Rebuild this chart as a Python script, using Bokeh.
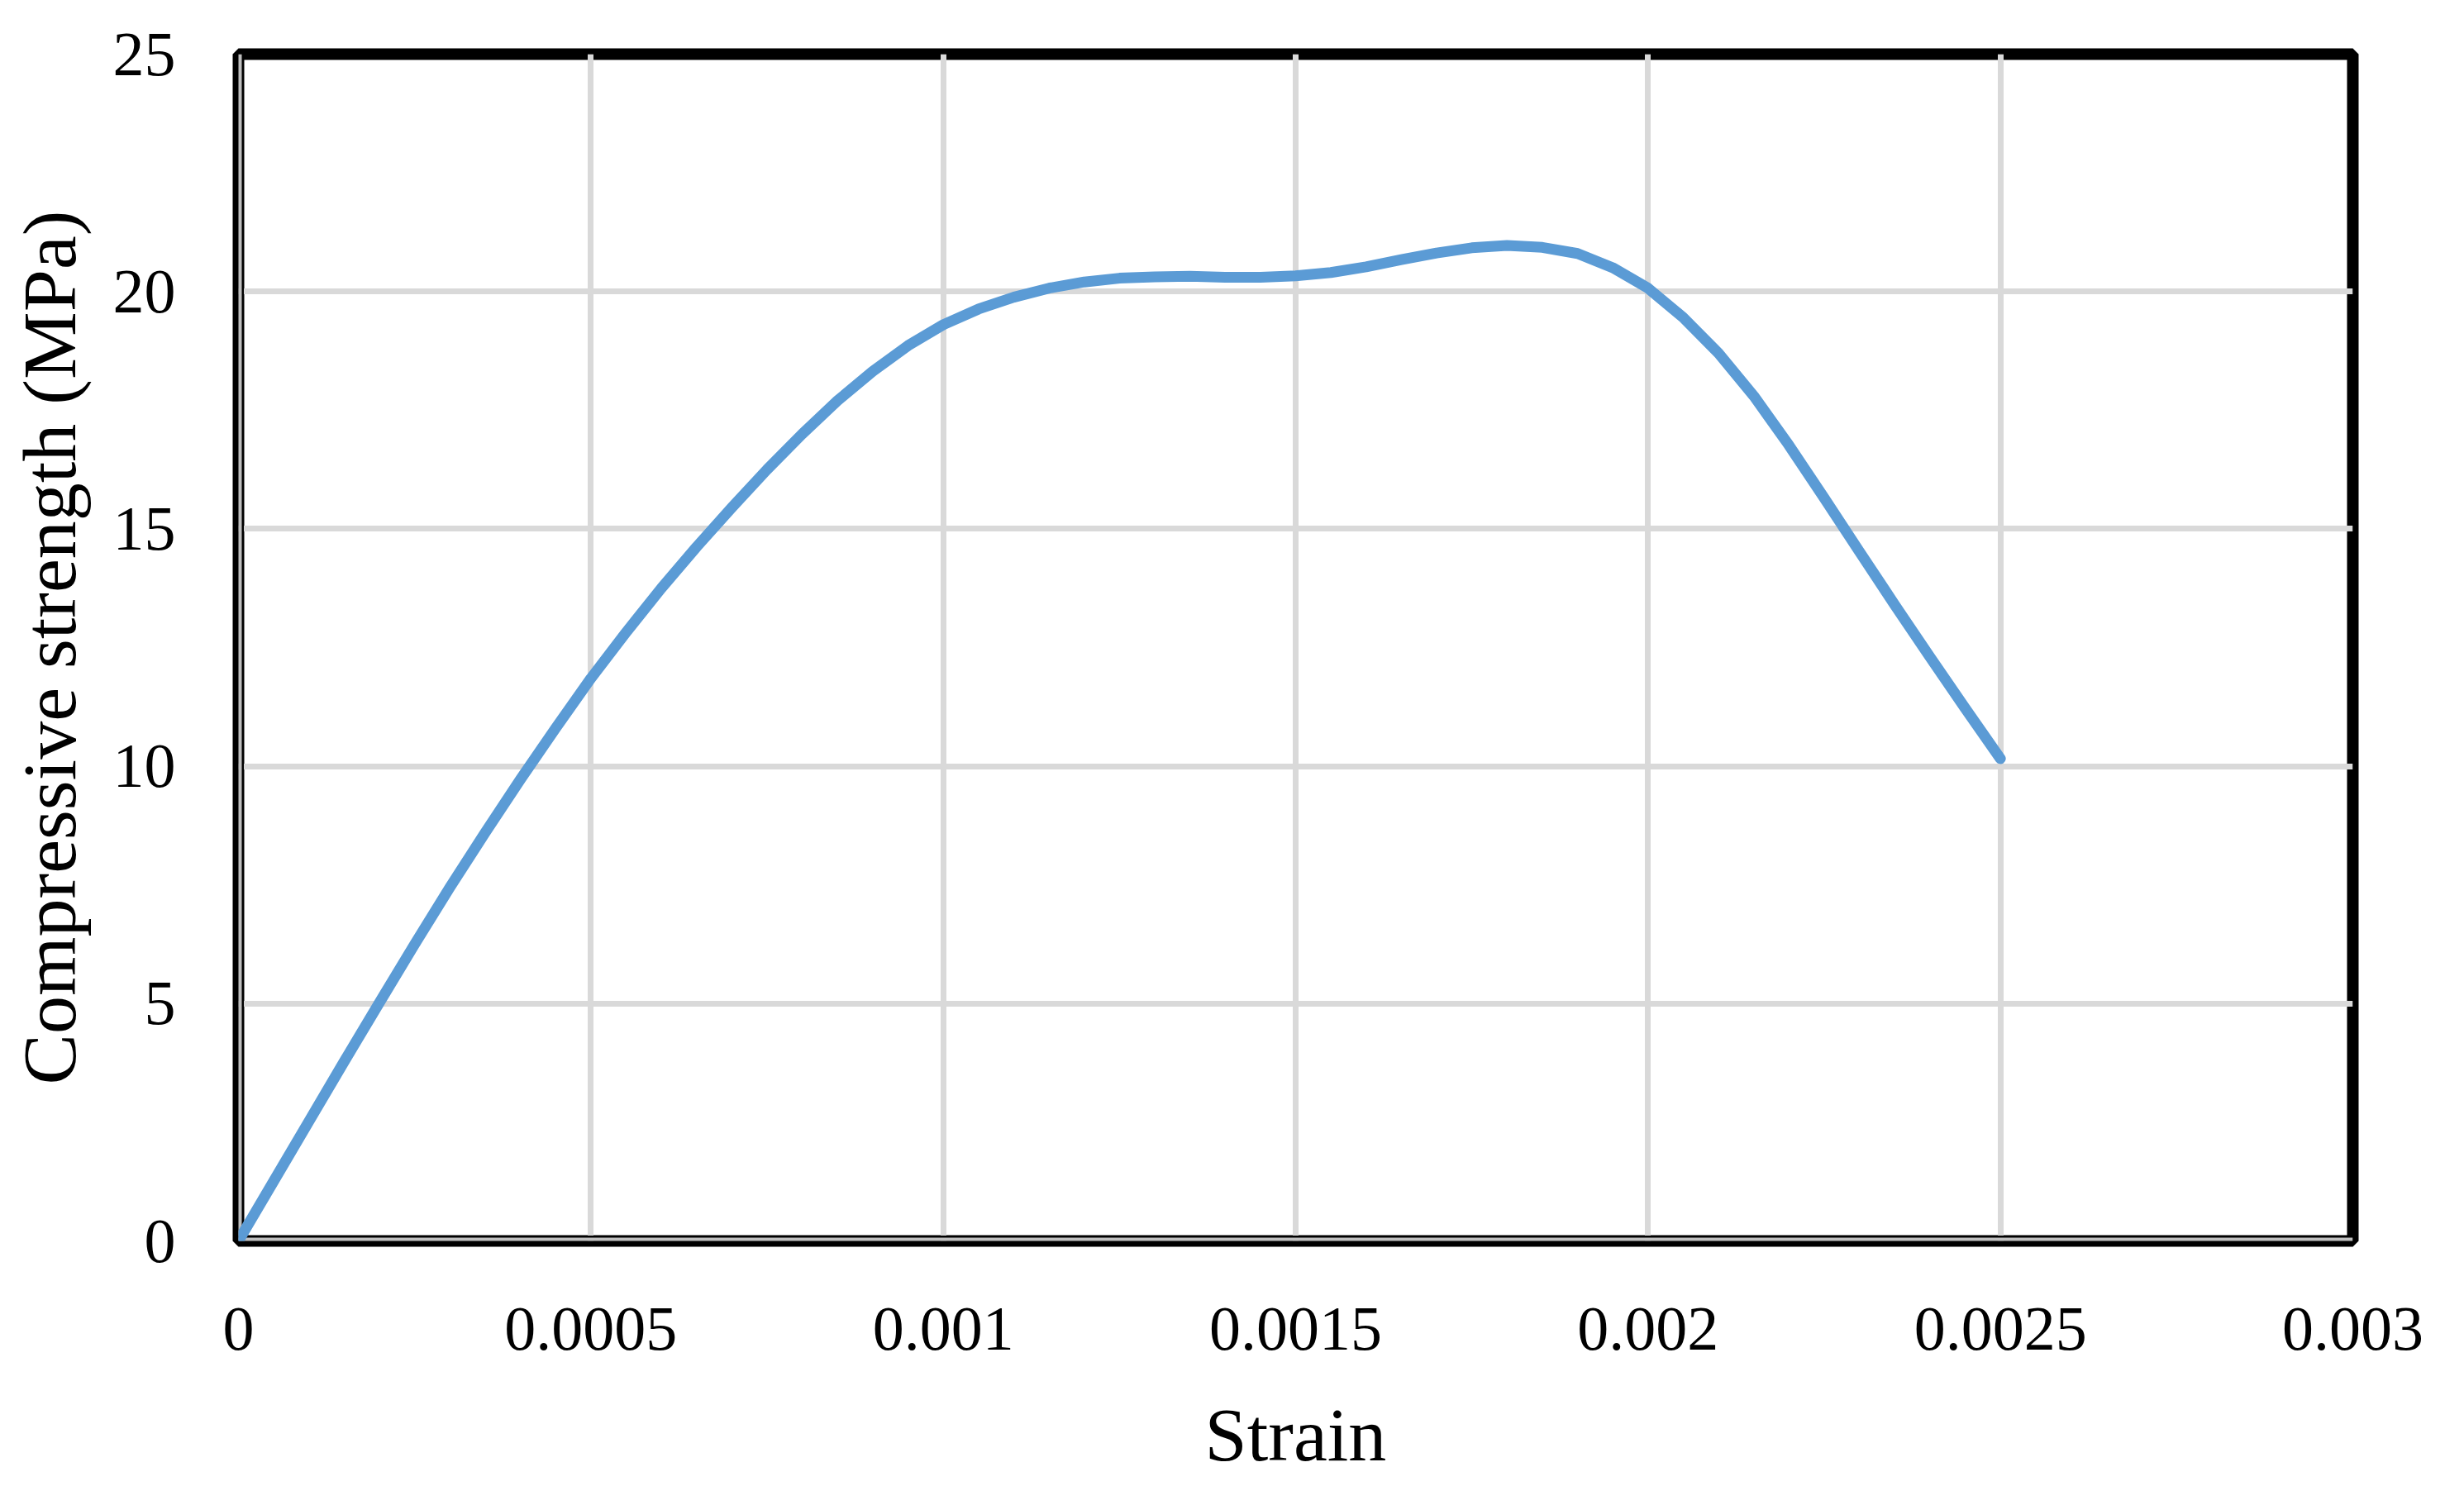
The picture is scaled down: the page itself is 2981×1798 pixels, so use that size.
from bokeh.plotting import figure
from bokeh.models import Range1d, FixedTicker, Span
from bokeh.embed import file_html
from bokeh.resources import INLINE

# Data
strain = [0, 0.00005, 0.0001, 0.00015, 0.0002, 0.00025, 0.0003, 0.00035, 0.0004, 0.00045,
          0.0005, 0.00055, 0.0006, 0.00065, 0.0007, 0.00075, 0.0008, 0.00085, 0.0009, 0.00095,
          0.001, 0.00105, 0.0011, 0.00115, 0.0012, 0.00125, 0.0013, 0.00135, 0.0014, 0.00145,
          0.0015, 0.00155, 0.0016, 0.00165, 0.0017, 0.00175, 0.0018, 0.00185, 0.0019, 0.00195,
          0.002, 0.00205, 0.0021, 0.00215, 0.0022, 0.00225, 0.0023, 0.00235, 0.0024, 0.00245,
          0.0025]
stress = [0, 1.26, 2.52, 3.78, 5.02, 6.25, 7.45, 8.6, 9.72, 10.8,
          11.85, 12.82, 13.75, 14.62, 15.45, 16.25, 17.0, 17.7, 18.32, 18.86,
          19.3, 19.63, 19.88, 20.07, 20.2, 20.28, 20.31, 20.32, 20.3, 20.3,
          20.33, 20.4, 20.52, 20.67, 20.81, 20.92, 20.97, 20.93, 20.8, 20.5,
          20.07, 19.45, 18.7, 17.8, 16.76, 15.65, 14.52, 13.4, 12.3, 11.22,
          10.16]

x_ticks = [0, 0.0005, 0.001, 0.0015, 0.002, 0.0025, 0.003]
x_tick_labels = ["0", "0.0005", "0.001", "0.0015", "0.002", "0.0025", "0.003"]
y_ticks = [0, 5, 10, 15, 20, 25]
y_tick_labels = ["0", "5", "10", "15", "20", "25"]
x_title = "Strain"
y_title = "Compressive strength (MPa)"

W, H = 2965, 1790
p = figure(width=W, height=H, output_backend="svg", toolbar_location=None,
           x_range=Range1d(0, 0.003), y_range=Range1d(0, 25),
           min_border_left=288, min_border_right=W - 2846, min_border_top=65,
           min_border_bottom=H - 1501)
p.background_fill_color = "white"
p.border_fill_color = "white"

FONT = "Liberation Serif"

for ax in (p.xaxis[0], p.yaxis[0]):
    ax.axis_line_color = None
    ax.major_tick_line_color = None
    ax.minor_tick_line_color = None
    ax.major_tick_out = 0
    ax.major_tick_in = 0
    ax.major_label_text_font = FONT
    ax.major_label_text_font_size = "76px"
    ax.major_label_text_color = "black"
    ax.axis_label_text_font = FONT
    ax.axis_label_text_font_size = "92px"
    ax.axis_label_text_font_style = "normal"
    ax.axis_label_text_color = "black"

p.xaxis.ticker = FixedTicker(ticks=x_ticks)
p.xaxis.major_label_overrides = {t: l for t, l in zip(x_ticks, x_tick_labels)}
p.yaxis.ticker = FixedTicker(ticks=y_ticks)
p.yaxis.major_label_overrides = {t: l for t, l in zip(y_ticks, y_tick_labels)}
p.xaxis.axis_label = x_title
p.yaxis.axis_label = y_title
p.xaxis.major_label_standoff = 81
p.xaxis.axis_label_standoff = 49
p.yaxis.major_label_standoff = 76
p.yaxis.axis_label_standoff = 23

p.xgrid.ticker = FixedTicker(ticks=x_ticks)
p.ygrid.ticker = FixedTicker(ticks=y_ticks)
for g in (p.xgrid[0], p.ygrid[0]):
    g.grid_line_color = "#D9D9D9"
    g.grid_line_width = 7

p.outline_line_color = "black"
p.outline_line_width = 14

# left and bottom axis lines: grey with thin black edges
for dim in ("height", "width"):
    p.add_layout(Span(location=0, dimension=dim, line_color="black", line_width=13, level="underlay"))
    p.add_layout(Span(location=0, dimension=dim, line_color="#BFBFBF", line_width=8, level="underlay"))

p.line(strain, stress, line_color="#5B9BD5", line_width=13, line_join="round", line_cap="round")

open("out.html", "w").write(file_html(p, INLINE))
